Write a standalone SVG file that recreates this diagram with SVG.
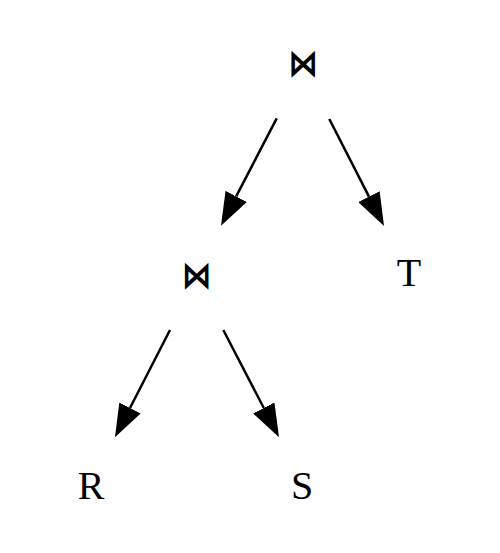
<svg xmlns="http://www.w3.org/2000/svg" width="500" height="553" viewBox="0 0 500 553">
<style>
.lbl{font-family:"Liberation Serif","Times New Roman",serif;font-size:40px;fill:#000;text-anchor:middle}
.op{font-family:"DejaVu Sans",sans-serif;font-size:30px;font-weight:bold;fill:#000;text-anchor:middle}
.edge{stroke:#000;stroke-width:2.5;fill:none;marker-end:url(#ah)}
</style>
<defs>
<marker id="ah" markerUnits="userSpaceOnUse" markerWidth="34" markerHeight="24" refX="0" refY="12" orient="auto" viewBox="0 0 34 24">
<path d="M0,0 L33,12 L0,24 z" fill="#000"/>
</marker>
</defs>
<rect width="500" height="553" fill="#fff"/>
<g id="connectors">
<line class="edge" x1="276.7" y1="118.3" x2="236.2" y2="196.4"/>
<line class="edge" x1="329.3" y1="119" x2="369" y2="196.6"/>
<line class="edge" x1="170" y1="330" x2="130" y2="408"/>
<line class="edge" x1="223.3" y1="330" x2="263.8" y2="408"/>
</g>
<g id="join1"><text class="op" transform="translate(303.3,65) scale(1,1.25)" x="0" y="9">⋈</text></g>
<g id="join2"><text class="op" transform="translate(196.7,276.3) scale(1,1.25)" x="0" y="9">⋈</text></g>
<g id="T"><text class="lbl" x="409" y="286">T</text></g>
<g id="R"><text class="lbl" x="91" y="499">R</text></g>
<g id="S"><text class="lbl" x="302" y="499">S</text></g>
</svg>
